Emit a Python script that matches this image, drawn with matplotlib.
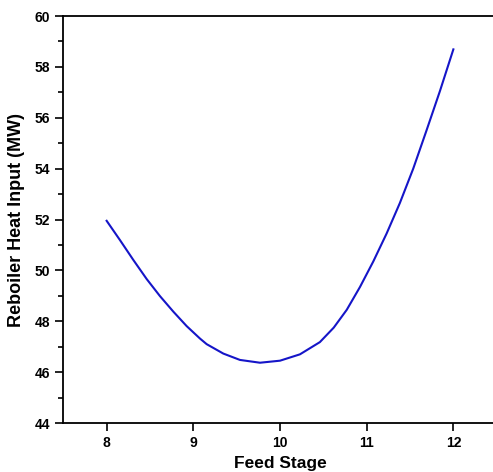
import matplotlib
matplotlib.use("Agg")
import matplotlib.pyplot as plt
from matplotlib.ticker import MultipleLocator

feed_stage = [8.0, 8.154, 8.308, 8.462, 8.615, 8.769, 8.923, 9.077, 9.154, 9.346, 9.538,
              9.769, 10.0, 10.23, 10.46, 10.62, 10.77, 10.923, 11.076, 11.23, 11.383,
              11.537, 11.69, 11.845, 12.0]
reboiler_mw = [51.95, 51.19, 50.41, 49.66, 48.99, 48.38, 47.81, 47.32, 47.10, 46.73, 46.48,
               46.37, 46.45, 46.70, 47.18, 47.75, 48.45, 49.35, 50.35, 51.45, 52.65,
               54.00, 55.50, 57.05, 58.69]

plt.rcParams['font.family'] = ['Liberation Sans', 'DejaVu Sans']
plt.rcParams['font.weight'] = 'bold'

fig = plt.figure(figsize=(4.93, 4.72), dpi=100)
ax = fig.add_axes([0.1284, 0.1038, 1.0075 - 0.1284, 0.966 - 0.1038])
ax.plot(feed_stage, reboiler_mw, color='#1515c8', lw=1.5, solid_joinstyle='round')

ax.set_xlim(7.5, 12.5)
ax.set_ylim(44, 60)
ax.xaxis.set_major_locator(MultipleLocator(1))
ax.yaxis.set_major_locator(MultipleLocator(2))
ax.yaxis.set_minor_locator(MultipleLocator(1))
for s in ax.spines.values():
    s.set_linewidth(1.3)
ax.tick_params(axis='both', which='major', direction='out', length=6, width=1.2, labelsize=10)
ax.tick_params(axis='y', which='minor', direction='out', length=3.6, width=1.2)
ax.tick_params(top=False, right=False)
for lab in ax.get_xticklabels() + ax.get_yticklabels():
    lab.set_fontweight('bold')
ax.set_xlabel('Feed Stage', fontsize=12.5, fontweight='bold', labelpad=4)
ax.set_ylabel('Reboiler Heat Input (MW)', fontsize=13, fontweight='bold', labelpad=7)

fig.savefig('out.png', dpi=100)
